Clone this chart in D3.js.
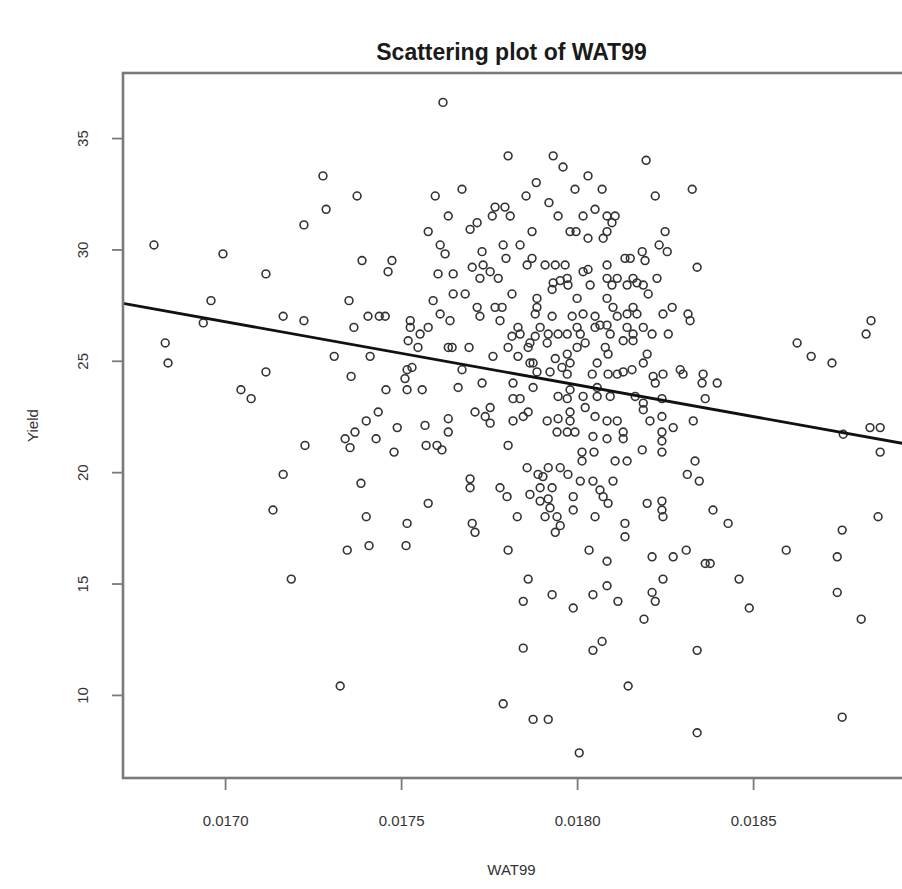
<!DOCTYPE html>
<html>
<head>
<meta charset="utf-8">
<script src="https://cdn.jsdelivr.net/npm/d3@7"></script>
<style>
  html, body { margin: 0; padding: 0; background: #ffffff; }
  svg { display: block; }
</style>
</head>
<body>
<script>
// WAT99 (x) and Yield (y) observations, one entry per plot
const wat99 = [
  0.017278,0.017375,0.017287,0.017224,0.016798,0.016994,0.017116,0.017389,0.017474,0.017463,
  0.016960,0.017352,0.017165,0.017224,0.016938,0.017406,0.017438,0.017455,0.017366,0.016830,
  0.016838,0.017310,0.017412,0.017116,0.017358,0.017045,0.017074,0.017457,0.017435,0.017401,
  0.017489,0.017369,0.017341,0.017429,0.017355,0.017227,0.017480,0.017165,0.017386,0.017136,
  0.017401,0.017347,0.017409,0.017188,0.017327,
  0.018327,0.018341,0.018321,0.018625,0.018665,0.018724,0.018835,0.018821,0.018358,0.018355,
  0.018398,0.018364,0.018330,
  0.018832,0.018861,0.018756,0.018861,0.018335,0.018347,0.018386,0.018429,0.018855,0.018753,
  0.018594,0.018739,0.018364,0.018378,0.018460,0.018739,0.018489,0.018807,0.018341,0.018753,
  0.018341,
  0.017568,0.017634,0.017634,0.017571,0.017602,0.017616,0.017804,0.017696,0.017696,0.017577,
  0.017781,0.017801,0.017858,0.017889,0.017903,0.017918,0.017952,0.017974,0.017929,0.017895,
  0.017866,0.017895,0.017918,0.017923,0.017909,0.017943,0.017952,0.017938,0.017830,0.017989,
  0.017989,0.018009,0.018045,0.018065,0.018074,0.018088,0.018102,0.018051,0.018108,0.018142,
  0.018185,0.018241,0.018136,0.018136,0.018199,0.018241,0.018241,0.018244,0.017517,0.017514,
  0.017702,0.017710,0.017804,0.018034,0.018085,0.018213,0.018273,0.018310,0.017861,0.017847,
  0.017929,0.017989,0.018045,0.018085,0.018116,0.018213,0.018222,0.018244,0.018190,0.017847,
  0.018045,0.018071,0.018145,0.017790,0.017875,0.017918,0.018006,0.018313,0.018014,0.018014,
  0.018048,0.017943,0.017972,0.017994,0.018045,0.018085,0.018131,0.018131,0.018241,0.018241,
  0.018273,
  0.017619,0.017804,0.017932,0.017960,0.018031,0.018196,0.017673,0.017597,0.017634,0.017577,
  0.017611,0.017625,0.017605,0.017648,0.017648,0.017682,0.017591,0.017611,0.017639,0.017526,
  0.017526,0.017554,0.017577,0.017520,0.017548,0.017634,0.017645,0.017693,0.017517,0.017531,
  0.017511,0.017673,0.017662,0.017560,0.017517,0.018270,0.018315,0.018259,0.018293,0.018301,
  0.017952,0.018051,0.017804,0.018000,0.018057,0.018156,0.018244,
  0.017884,0.017994,0.018071,0.018222,0.017855,0.017920,0.017767,0.017795,0.017759,0.017810,
  0.017946,0.018017,0.018051,0.018085,0.018108,0.018099,0.017716,0.017696,0.017872,0.017980,
  0.017997,0.018031,0.018074,0.018085,0.018250,0.017730,0.017790,0.017798,0.017838,0.017872,
  0.018185,0.018193,0.018136,0.018151,0.018233,0.018256,0.017702,0.017733,0.017753,0.017776,
  0.017724,0.017858,0.017909,0.017938,0.017966,0.018017,0.018031,0.018085,0.017932,0.017929,
  0.017974,0.017972,0.018037,0.018085,0.018099,0.018114,0.018142,0.018159,0.018170,0.018188,
  0.018227,0.018202,0.017815,0.017716,0.017724,0.017767,0.017787,0.017781,0.017886,0.017886,
  0.017881,0.018000,0.018085,0.018102,0.018159,0.018170,0.018142,0.018114,0.017929,0.017986,
  0.018017,0.018051,0.018065,0.018000,0.018009,0.018085,0.018094,0.018142,0.018159,0.018188,
  0.018213,0.018244,0.017832,0.017838,0.017815,0.017895,0.017918,0.017946,0.017972,0.017881,
  0.017866,0.017915,0.018023,0.018080,0.018088,0.018131,0.018159,0.018199,0.018188,0.017761,
  0.017832,0.017861,0.017938,0.017972,0.017980,0.017886,0.017923,0.017957,0.017972,0.017866,
  0.017875,0.018043,0.018088,0.018114,0.018131,0.018216,0.018222,0.018241,0.017730,0.017818,
  0.017875,0.017980,0.018057,0.017818,0.017838,0.017946,0.017972,0.018017,0.018023,0.018057,
  0.018094,0.018165,0.018188,0.017710,0.017753,0.017739,0.017753,0.017818,0.017847,0.017861,
  0.017915,0.017946,0.017980,0.017980,0.018051,0.018085,0.018114,0.018188,0.018207,0.018241
];

const yieldValues = [
  33.3,32.4,31.8,31.1,30.2,29.8,28.9,29.5,29.5,29.0,
  27.7,27.7,27.0,26.8,26.7,27.0,27.0,27.0,26.5,25.8,
  24.9,25.2,25.2,24.5,24.3,23.7,23.3,23.7,22.7,22.3,
  22.0,21.8,21.5,21.5,21.1,21.2,20.9,19.9,19.5,18.3,
  18.0,16.5,16.7,15.2,10.4,
  32.7,29.2,26.8,25.8,25.2,24.9,26.8,26.2,24.4,24.0,
  24.0,23.3,22.3,
  22.0,22.0,21.7,20.9,20.5,19.6,18.3,17.7,18.0,17.4,
  16.5,16.2,15.9,15.9,15.2,14.6,13.9,13.4,12.0,9.0,
  8.3,
  22.1,22.4,21.8,21.2,21.2,21.0,21.2,19.7,19.3,18.6,
  19.3,18.9,20.2,19.9,19.8,20.2,20.2,19.9,19.3,19.3,
  19.0,18.7,18.8,18.4,18.0,18.0,17.6,17.3,18.0,18.9,
  18.3,19.6,19.6,19.2,18.9,18.6,19.6,18.0,20.5,20.5,
  21.0,20.9,17.7,17.1,18.6,18.7,18.3,18.0,17.7,16.7,
  17.7,17.3,16.5,16.5,16.0,16.2,16.2,16.5,15.2,14.2,
  14.5,13.9,14.5,14.9,14.2,14.6,14.2,15.2,13.4,12.1,
  12.0,12.4,10.4,9.6,8.9,8.9,7.4,19.9,20.9,20.5,
  20.9,21.8,21.8,21.8,21.6,21.5,21.8,21.5,21.8,21.4,
  22.0,
  36.6,34.2,34.2,33.7,33.3,34.0,32.7,32.4,31.5,30.8,
  30.2,29.8,28.9,28.9,28.0,28.0,27.7,27.1,26.8,26.8,
  26.5,26.2,26.5,25.9,25.6,25.6,25.6,25.6,24.6,24.7,
  24.2,24.6,23.8,23.7,23.7,27.4,27.1,26.2,24.6,24.4,
  28.6,26.5,25.6,25.6,24.9,24.6,24.4,
  33.0,32.7,32.7,32.4,32.4,32.1,31.9,31.9,31.5,31.5,
  31.5,31.5,31.8,31.5,31.5,31.2,31.2,30.9,30.8,30.8,
  30.8,30.5,30.5,30.8,30.8,29.9,30.2,29.6,30.2,29.6,
  29.9,29.5,29.6,29.6,30.2,29.9,29.2,29.3,29.0,28.7,
  28.7,29.3,29.3,29.3,29.3,29.0,29.1,29.3,28.5,28.2,
  28.4,28.7,28.4,28.7,28.4,28.7,28.4,28.7,28.5,28.4,
  28.7,28.0,28.0,27.4,27.0,27.4,27.4,26.8,27.8,27.4,
  27.1,27.8,27.8,27.4,27.4,27.1,27.1,27.0,27.0,27.0,
  27.1,27.0,26.6,26.5,26.2,26.6,26.2,26.5,26.2,26.5,
  26.2,27.1,26.5,26.2,26.1,26.5,26.2,26.2,26.2,26.1,
  25.8,25.8,25.8,25.6,25.3,25.9,25.9,25.3,24.9,25.2,
  25.2,25.6,25.1,25.3,24.9,24.5,24.5,24.7,24.4,24.9,
  24.9,24.4,24.4,24.4,24.5,24.3,24.0,23.3,24.0,24.0,
  23.8,23.7,23.8,23.3,23.3,23.4,23.3,23.4,22.9,23.4,
  23.4,23.4,23.1,22.7,22.9,22.5,22.2,22.3,22.5,22.7,
  22.3,22.4,22.3,22.7,22.5,22.3,22.3,22.8,22.3,22.5
];

// Least-squares line Yield ~ WAT99
const fitIntercept = 75.0;
const fitSlope = -2838;

const xTicks = [0.0170, 0.0175, 0.0180, 0.0185];
const yTicks = [10, 15, 20, 25, 30, 35];
const xDomain = [0.01671, 0.01894];
const yDomain = [6.27, 37.92];

const W = 902, H = 889;
const box = { left: 123, top: 73, right: 908, bottom: 778 };
const axisColor = "#7a7a7a";
const textColor = "#333333";
const font = "'Liberation Sans', Arial, Helvetica, sans-serif";

const svg = d3.select("body").append("svg")
  .attr("width", W).attr("height", H)
  .attr("viewBox", `0 0 ${W} ${H}`);

const x = d3.scaleLinear().domain(xDomain).range([box.left, box.right]);
const y = d3.scaleLinear().domain(yDomain).range([box.bottom, box.top]);

svg.append("defs").append("clipPath").attr("id", "plot-clip")
  .append("rect")
  .attr("x", box.left).attr("y", box.top)
  .attr("width", box.right - box.left).attr("height", box.bottom - box.top);

// Points
const pts = wat99.map((v, i) => ({ w: v, yv: yieldValues[i] }));
svg.append("g")
  .attr("clip-path", "url(#plot-clip)")
  .selectAll("circle")
  .data(pts)
  .join("circle")
  .attr("cx", d => x(d.w))
  .attr("cy", d => y(d.yv))
  .attr("r", 3.9)
  .attr("fill", "none")
  .attr("stroke", "#333333")
  .attr("stroke-width", 1.6);

// Fitted line across the plotting region
svg.append("line")
  .attr("clip-path", "url(#plot-clip)")
  .attr("x1", x(xDomain[0])).attr("y1", y(fitIntercept + fitSlope * xDomain[0]))
  .attr("x2", x(xDomain[1])).attr("y2", y(fitIntercept + fitSlope * xDomain[1]))
  .attr("stroke", "#111")
  .attr("stroke-width", 2.8);

// Frame
svg.append("rect")
  .attr("x", box.left).attr("y", box.top)
  .attr("width", box.right - box.left).attr("height", box.bottom - box.top)
  .attr("fill", "none")
  .attr("stroke", axisColor)
  .attr("stroke-width", 2.6);

// X axis
const xAxis = svg.append("g")
  .attr("transform", `translate(0,${box.bottom})`)
  .call(d3.axisBottom(x).tickValues(xTicks).tickFormat(d3.format(".4f")).tickSize(12).tickPadding(25));
xAxis.select(".domain").remove();
xAxis.selectAll(".tick line").attr("stroke", axisColor).attr("stroke-width", 1.8);
xAxis.selectAll(".tick text")
  .attr("fill", textColor).attr("font-family", font).attr("font-size", 15);

// Y axis with labels parallel to the axis
const yAxis = svg.append("g")
  .attr("transform", `translate(${box.left},0)`)
  .call(d3.axisLeft(y).tickValues(yTicks).tickSize(11));
yAxis.select(".domain").remove();
yAxis.selectAll(".tick line").attr("stroke", axisColor).attr("stroke-width", 1.8);
yAxis.selectAll(".tick text")
  .attr("x", null).attr("dy", null)
  .attr("transform", "translate(-35,0) rotate(-90)")
  .attr("text-anchor", "middle")
  .attr("fill", textColor).attr("font-family", font).attr("font-size", 15);

// Titles
svg.append("text")
  .attr("x", (box.left + box.right) / 2 - 4).attr("y", 60)
  .attr("text-anchor", "middle")
  .attr("font-family", font).attr("font-weight", "bold").attr("font-size", 23)
  .attr("fill", "#1a1a1a")
  .text("Scattering plot of WAT99");

svg.append("text")
  .attr("x", (box.left + box.right) / 2 - 4).attr("y", 875)
  .attr("text-anchor", "middle")
  .attr("font-family", font).attr("font-size", 15)
  .attr("fill", textColor)
  .text("WAT99");

svg.append("text")
  .attr("transform", `translate(38,${(box.top + box.bottom) / 2}) rotate(-90)`)
  .attr("text-anchor", "middle")
  .attr("font-family", font).attr("font-size", 15)
  .attr("fill", textColor)
  .text("Yield");
</script>
</body>
</html>
